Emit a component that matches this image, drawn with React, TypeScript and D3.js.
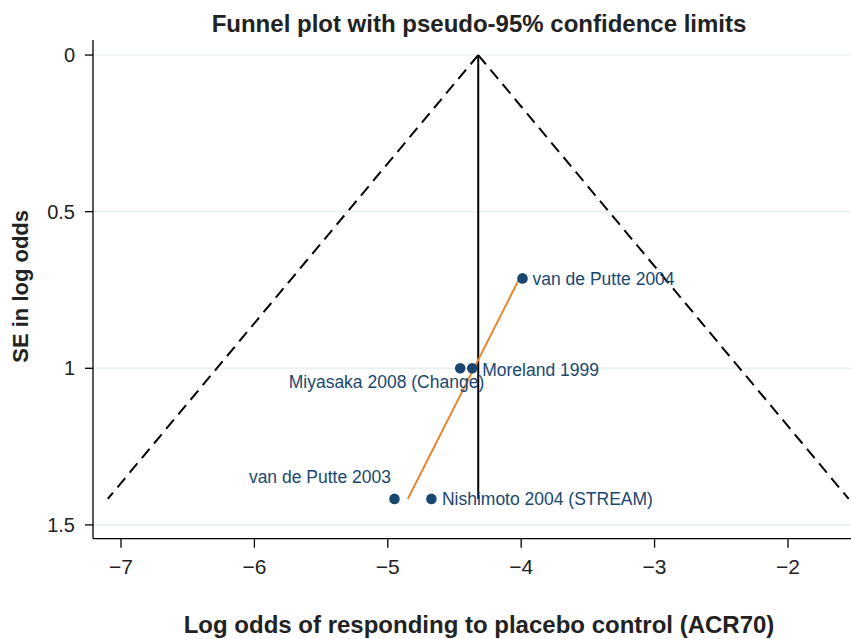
import { useMemo } from 'react'
import * as d3 from 'd3'

// study estimates
const studies = [
  'van de Putte 2004',
  'Moreland 1999',
  'Miyasaka 2008 (Change)',
  'Nishimoto 2004 (STREAM)',
  'van de Putte 2003',
]
const logOdds = [-3.99, -4.367, -4.457, -4.673, -4.95]
const seLogOdds = [0.713, 1.0, 1.0, 1.417, 1.417]

// pooled (fixed effect) estimate and the fitted regression line x = a + b * SE
const pooled = -4.322
const fitIntercept = -3.165
const fitSlope = -1.189

const xTicks = [-7, -6, -5, -4, -3, -2]
const yTicks = [0, 0.5, 1, 1.5]

// marker label placement: [anchor, dx, dy]
const labelPlacement: [string, number, number][] = [
  ['start', 10, 6.5],
  ['start', 10, 7.5],
  ['end', 24, 20],
  ['start', 10.5, 6],
  ['end', -3.5, -16],
]

const W = 851
const H = 639
const FONT = 'Liberation Sans, Arial, Helvetica, sans-serif'
const NAVY = '#1a476f'

export default function App() {
  const { x, y, maxSe } = useMemo(() => {
    const x = d3.scaleLinear().domain([-7.21, -1.46]).range([93, 860])
    const y = d3.scaleLinear().domain([-0.048, 1.544]).range([40, 538.7])
    return { x, y, maxSe: d3.max(seLogOdds) as number }
  }, [])

  const [x0] = x.range()
  const [y0, y1] = y.range()
  const line = d3
    .line<[number, number]>()
    .x((d) => x(d[0]))
    .y((d) => y(d[1]))

  const lower = line([
    [pooled, 0],
    [pooled - 1.96 * maxSe, maxSe],
  ])
  const upper = line([
    [pooled, 0],
    [pooled + 1.96 * maxSe, maxSe],
  ])
  const seMin = d3.min(seLogOdds) as number
  const fit = line([
    [fitIntercept + fitSlope * seMin, seMin],
    [fitIntercept + fitSlope * maxSe, maxSe],
  ])

  return (
    <svg
      width={W}
      height={H}
      style={{ position: 'absolute', left: 0, top: 0, background: '#fff' }}
      fontFamily={FONT}
    >
      <rect width={W} height={H} fill="#fff" />

      {/* gridlines */}
      {yTicks.map((t) => (
        <line key={t} x1={x0} x2={W} y1={y(t)} y2={y(t)} stroke="#e8f1f4" strokeWidth={1.6} />
      ))}

      {/* funnel */}
      <path d={lower ?? ''} fill="none" stroke="#000" strokeWidth={2} strokeDasharray="12,7" />
      <path d={upper ?? ''} fill="none" stroke="#000" strokeWidth={2} strokeDasharray="12,7" />
      <line x1={x(pooled)} x2={x(pooled)} y1={y(0)} y2={y(maxSe)} stroke="#000" strokeWidth={2} />

      {/* fitted line */}
      <path d={fit ?? ''} fill="none" stroke="#e8832a" strokeWidth={2} />

      {/* studies */}
      {studies.map((s, i) => {
        const [anchor, dx, dy] = labelPlacement[i]
        const cx = x(logOdds[i])
        const cy = y(seLogOdds[i])
        return (
          <g key={s}>
            <circle cx={cx} cy={cy} r={5.3} fill={NAVY} />
            <text x={cx + dx} y={cy + dy} textAnchor={anchor} fontSize={17.5} fill={NAVY}>
              {s}
            </text>
          </g>
        )
      })}

      {/* axes */}
      <line x1={x0} x2={x0} y1={y0} y2={y1} stroke="#000" strokeWidth={1.3} />
      <line x1={x0} x2={W} y1={y1} y2={y1} stroke="#000" strokeWidth={1.3} />
      {yTicks.map((t) => (
        <g key={t}>
          <line x1={x0 - 8} x2={x0} y1={y(t)} y2={y(t)} stroke="#000" strokeWidth={1.3} />
          <text x={75} y={y(t)} dy="0.36em" textAnchor="end" fontSize={20} fill="#222">
            {String(t)}
          </text>
        </g>
      ))}
      {xTicks.map((t) => (
        <g key={t}>
          <line x1={x(t)} x2={x(t)} y1={y1} y2={y1 + 9} stroke="#000" strokeWidth={1.3} />
          <text x={x(t)} y={574} textAnchor="middle" fontSize={21} fill="#222">
            {t < 0 ? '\u2212' + Math.abs(t) : String(t)}
          </text>
        </g>
      ))}

      {/* titles */}
      <text x={479} y={32} textAnchor="middle" fontSize={24} fontWeight="bold" fill="#222">
        Funnel plot with pseudo-95% confidence limits
      </text>
      <text x={479} y={633} textAnchor="middle" fontSize={24} fontWeight="bold" fill="#222">
        Log odds of responding to placebo control (ACR70)
      </text>
      <text
        transform={`translate(28,${(y0 + y1) / 2 - 3}) rotate(-90)`}
        textAnchor="middle"
        fontSize={22}
        fontWeight="bold"
        fill="#222"
      >
        SE in log odds
      </text>
    </svg>
  )
}
